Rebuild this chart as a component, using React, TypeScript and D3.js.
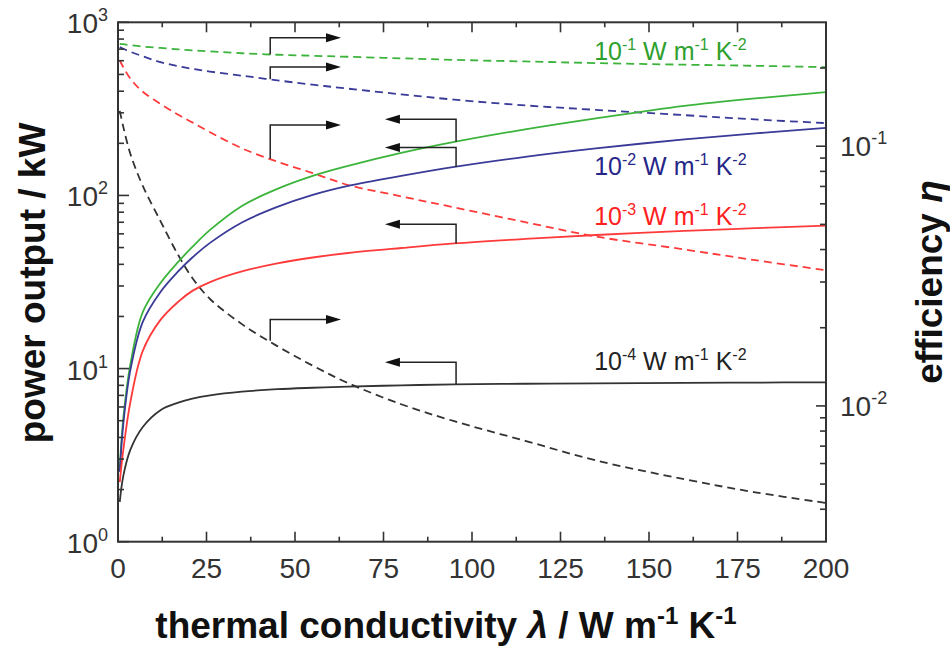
import React from 'react';
import * as d3 from 'd3';

// thermal conductivity grid (W m^-1 K^-1)
const lambda = [0.5, 1.5, 3.5, 7, 12, 17, 21, 26, 35, 45, 55, 65, 80, 95, 115, 135, 160, 180, 200];

// power output (kW), solid lines, left axis
const powerG = [2.67, 5.18, 10.6, 21.2, 31.2, 41.3, 50.4, 63.2, 87.0, 109, 129.6, 148.1, 176, 203.7, 240.6, 278.5, 328.9, 363.4, 394.8];
const powerB = [2.53, 4.79, 9.82, 18.6, 27.7, 36.4, 43.8, 53.2, 69.8, 85.8, 100.7, 113.5, 129.6, 146.1, 167, 186.9, 210.6, 228.1, 245.5];
const powerR = [2.21, 3.39, 6.41, 12.64, 19.1, 24.3, 28.1, 31.6, 36.4, 40.5, 43.8, 46.5, 49.7, 52.8, 56.1, 59.1, 62.4, 64.7, 66.9];
const powerK = [1.7, 2.4, 3.4, 4.6, 5.75, 6.35, 6.7, 7.0, 7.35, 7.6, 7.75, 7.87, 8.0, 8.1, 8.17, 8.22, 8.27, 8.3, 8.33];

// efficiency, dashed lines, right axis
const effG = [0.248, 0.247, 0.245, 0.242, 0.239, 0.236, 0.234, 0.232, 0.228, 0.225, 0.223, 0.221, 0.218, 0.215, 0.212, 0.209, 0.206, 0.204, 0.2016];
const effB = [0.2408, 0.2372, 0.231, 0.222, 0.2106, 0.2035, 0.1986, 0.1938, 0.1869, 0.1793, 0.1726, 0.1666, 0.1584, 0.1511, 0.1436, 0.138, 0.1317, 0.1268, 0.1227];
const effR = [0.2143, 0.2014, 0.182, 0.162, 0.1456, 0.1322, 0.1235, 0.1132, 0.0982, 0.0872, 0.0788, 0.0709, 0.0641, 0.0581, 0.051, 0.0449, 0.04004, 0.0364, 0.0333];
const effK = [0.1368, 0.1187, 0.0934, 0.0703, 0.0515, 0.0381, 0.0311, 0.0258, 0.02065, 0.01699, 0.01429, 0.01224, 0.01015, 0.00873, 0.00734, 0.00617, 0.00522, 0.00465, 0.00423];

const seriesExp = ['-1', '-2', '-3', '-4'];
const lineColors = ['#3cb43c', '#3a3a98', '#ff3a3a', '#333333'];
const textColors = ['#2ea02e', '#262688', '#ff2020', '#222222'];

// annotation arrows
const arrowRightBase = 43;
const arrowRightTip = 63;
const arrowRightFrom = [0.2256, 0.181, 0.0894, 0.0178];
const arrowRightTo = [0.2616, 0.2017, 0.1208, 0.0215];
const arrowLeftBase = 95.5;
const arrowLeftTip = 75.4;
const arrowLeftFrom = [204, 146, 52.8, 8.1];
const arrowLeftTo = [275.6, 188.9, 68.2, 10.87];

// label anchors (lambda, power)
const labelLambda = 134.5;
const labelPower = [607, 131, 67.5, 9.8];

const xMajor = [0, 25, 50, 75, 100, 125, 150, 175, 200];
const xMinor = [12.5, 37.5, 62.5, 87.5, 112.5, 137.5, 162.5, 187.5];
const leftExps = [0, 1, 2, 3];
const rightExps = [-1, -2];

const W = 950, H = 653;
const L = 118, R = 826, T = 22.3, B = 541.7;
const FONT = "'Liberation Sans', Arial, Helvetica, sans-serif";

export default function App() {
  const x = d3.scaleLinear().domain([0, 200]).range([L, R]);
  const yL = d3.scaleLog().domain([1, 1000]).range([B, T]);
  const yR = d3.scaleLog().domain([0.003, 0.3]).range([B, T]);

  const powers = [powerG, powerB, powerR, powerK];
  const effs = [effG, effB, effR, effK];

  const curve = d3.curveCatmullRom.alpha(0.5);
  const lineL = (vals: number[]) =>
    d3.line<number>().x((_, i) => x(lambda[i])).y((v) => yL(v)).curve(curve)(vals) || '';
  const lineR = (vals: number[]) =>
    d3.line<number>().x((_, i) => x(lambda[i])).y((v) => yR(v)).curve(curve)(vals) || '';

  const leftMinor: number[] = [];
  [0, 1, 2].forEach((d) => { for (let m = 2; m <= 9; m++) leftMinor.push(m * Math.pow(10, d)); });
  const rightMinor: number[] = [];
  for (let m = 4; m <= 9; m++) rightMinor.push(m * 0.001);
  for (let m = 2; m <= 9; m++) rightMinor.push(m * 0.01);
  rightMinor.push(0.2);

  const axisColor = '#333';
  const tickLabelColor = '#333';

  return (
    <svg width={W} height={H} style={{ position: 'absolute', left: 0, top: 0, display: 'block', background: '#fff' }} fontFamily={FONT}>
      <rect x={0} y={0} width={W} height={H} fill="#fff" />
      <defs>
        <clipPath id="plotclip"><rect x={L} y={T} width={R - L} height={B - T} /></clipPath>
      </defs>

      {/* curves */}
      <g clipPath="url(#plotclip)" fill="none">
        {effs.map((e, i) => (
          <path key={'e' + i} d={lineR(e)} stroke={lineColors[i]} strokeWidth={1.8} strokeDasharray="8,5" />
        ))}
        {powers.map((p, i) => (
          <path key={'p' + i} d={lineL(p)} stroke={lineColors[i]} strokeWidth={1.8} />
        ))}
      </g>

      {/* arrows */}
      <g stroke="#222" strokeWidth={1.5} fill="none">
        {arrowRightFrom.map((v, i) => {
          const bx = x(arrowRightBase), tx = x(arrowRightTip);
          const y0 = yR(v), y1 = yR(arrowRightTo[i]);
          return (
            <g key={'ar' + i}>
              <path d={`M${bx},${y0}V${y1}H${tx - 12}`} />
              <path d={`M${tx},${y1}L${tx - 15},${y1 - 4.5}L${tx - 15},${y1 + 4.5}Z`} fill="#111" stroke="none" />
            </g>
          );
        })}
        {arrowLeftFrom.map((v, i) => {
          const bx = x(arrowLeftBase), tx = x(arrowLeftTip);
          const y0 = yL(v), y1 = yL(arrowLeftTo[i]);
          return (
            <g key={'al' + i}>
              <path d={`M${bx},${y0}V${y1}H${tx + 12}`} />
              <path d={`M${tx},${y1}L${tx + 15},${y1 - 4.5}L${tx + 15},${y1 + 4.5}Z`} fill="#111" stroke="none" />
            </g>
          );
        })}
      </g>

      {/* series labels */}
      {labelPower.map((p, i) => (
        <text key={'lab' + i} x={x(labelLambda)} y={yL(p)} fill={textColors[i]} fontSize={25}>
          <tspan>10</tspan>
          <tspan dy={-10} fontSize={16}>{seriesExp[i]}</tspan>
          <tspan dy={10}> W m</tspan>
          <tspan dy={-10} fontSize={16}>-1</tspan>
          <tspan dy={10}> K</tspan>
          <tspan dy={-10} fontSize={16}>-2</tspan>
        </text>
      ))}

      {/* frame */}
      <rect x={L} y={T} width={R - L} height={B - T} fill="none" stroke={axisColor} strokeWidth={2} />

      {/* ticks */}
      <g stroke={axisColor} strokeWidth={1.6}>
        {xMajor.map((v) => (
          <g key={'xm' + v}>
            <line x1={x(v)} x2={x(v)} y1={B} y2={B - 10} />
            <line x1={x(v)} x2={x(v)} y1={T} y2={T + 10} />
          </g>
        ))}
        {xMinor.map((v) => (
          <g key={'xn' + v}>
            <line x1={x(v)} x2={x(v)} y1={B} y2={B - 5} />
            <line x1={x(v)} x2={x(v)} y1={T} y2={T + 5} />
          </g>
        ))}
        {leftExps.map((e) => (
          <line key={'lm' + e} x1={L} x2={L + 11} y1={yL(Math.pow(10, e))} y2={yL(Math.pow(10, e))} />
        ))}
        {leftMinor.map((v) => (
          <line key={'ln' + v} x1={L} x2={L + 6} y1={yL(v)} y2={yL(v)} />
        ))}
        {rightExps.map((e) => (
          <line key={'rm' + e} x1={R} x2={R - 10} y1={yR(Math.pow(10, e))} y2={yR(Math.pow(10, e))} />
        ))}
        {rightMinor.map((v) => (
          <line key={'rn' + v} x1={R} x2={R - 6} y1={yR(v)} y2={yR(v)} />
        ))}
      </g>

      {/* x tick labels */}
      {xMajor.map((v) => (
        <text key={'xl' + v} x={x(v)} y={578} textAnchor="middle" fontSize={28} fill={tickLabelColor}>{v}</text>
      ))}

      {/* left tick labels */}
      {leftExps.map((e) => (
        <text key={'ll' + e} x={108} y={yL(Math.pow(10, e)) + 11} textAnchor="end" fontSize={28} fill={tickLabelColor}>
          <tspan>10</tspan>
          <tspan dy={-12} fontSize={18}>{e}</tspan>
        </text>
      ))}

      {/* right tick labels */}
      {rightExps.map((e) => (
        <text key={'rl' + e} x={840} y={yR(Math.pow(10, e)) + 10} textAnchor="start" fontSize={28} fill={tickLabelColor}>
          <tspan>10</tspan>
          <tspan dy={-12} fontSize={18}>{e}</tspan>
        </text>
      ))}

      {/* axis titles */}
      <text x={446} y={638} textAnchor="middle" fontSize={37} fontWeight="bold" fill="#111">
        <tspan>thermal conductivity </tspan>
        <tspan fontStyle="italic">λ</tspan>
        <tspan> / W m</tspan>
        <tspan dy={-14} fontSize={24}>-1</tspan>
        <tspan dy={14}> K</tspan>
        <tspan dy={-14} fontSize={24}>-1</tspan>
      </text>
      <text transform={`translate(45,283) rotate(-90)`} textAnchor="middle" fontSize={37} fontWeight="bold" fill="#111">
        power output / kW
      </text>
      <text transform={`translate(942,282) rotate(-90)`} textAnchor="middle" fontSize={37} fontWeight="bold" fill="#111">
        <tspan>efficiency </tspan>
        <tspan fontStyle="italic">η</tspan>
      </text>
    </svg>
  );
}
